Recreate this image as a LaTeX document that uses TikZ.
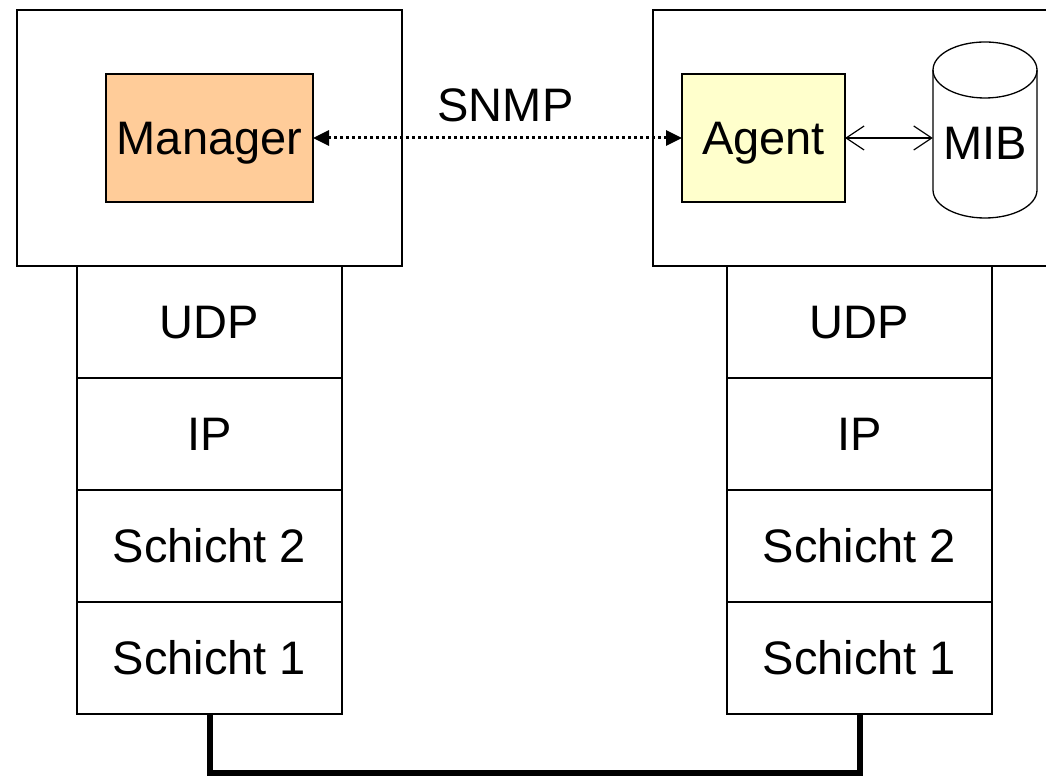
\documentclass[tikz,border=0pt]{standalone}
\usepackage{fontspec}
\setmainfont{Liberation Sans}
\usetikzlibrary{positioning,arrows.meta}

\definecolor{managerfill}{HTML}{FFCC99}
\definecolor{agentfill}{HTML}{FFFFCC}

\begin{document}
\begin{tikzpicture}[
    x=1pt, y=1pt,
    node distance=0pt,
    big/.style={font=\fontsize{47}{56}\selectfont, text height=33.6pt, text depth=0pt},
    host/.style={rectangle, draw, line width=1.8pt, minimum height=256pt, outer sep=0pt},
    app/.style={rectangle, draw, line width=1.3pt, minimum height=128pt, outer sep=0pt, big},
    layer/.style={rectangle, draw, line width=1.3pt, minimum width=265pt, minimum height=112pt, outer sep=0pt, big},
    dbshape/.style={line width=1.3pt},
    snmp/.style={line width=3pt, dash pattern=on 3pt off 3pt, {Triangle[length=16pt,width=15pt]}-{Triangle[length=16pt,width=15pt]}},
    access/.style={line width=1.2pt, {Straight Barb[length=18pt,width=24pt]}-{Straight Barb[length=18pt,width=24pt]}},
    wire/.style={line width=6pt}
]
\clip (0,0) rectangle (1046,779);

% Hosts
\node[host, minimum width=385pt] (leftbox) at (209.5,641) {};
\node[host, minimum width=413pt, right=251pt of leftbox] (rightbox) {};

% Manager and agent
\node[app, fill=managerfill, minimum width=207pt] (manager) at (leftbox.center) {Manager};
\node[app, fill=agentfill, minimum width=163pt, right=29pt of rightbox.west, anchor=west] (agent) {Agent};

% MIB
\node[big, inner sep=0pt, minimum width=104pt] (mib) at (985,636) {MIB};
\draw[dbshape] (933,709) -- (933,589) arc[start angle=180, end angle=360, x radius=52, y radius=28] -- (1037,709);
\draw[dbshape] (985,709) ellipse [x radius=52, y radius=28];

% Left stack
\node[layer, below=of leftbox] (udpl) {UDP};
\node[layer, below=of udpl] (ipl) {IP};
\node[layer, below=of ipl] (sch2l) {Schicht 2};
\node[layer, below=of sch2l] (sch1l) {Schicht 1};

% Right stack
\node[layer, below=of rightbox] (udpr) {UDP};
\node[layer, below=of udpr] (ipr) {IP};
\node[layer, below=of ipr] (sch2r) {Schicht 2};
\node[layer, below=of sch2r] (sch1r) {Schicht 1};

% Connections
\draw[snmp] (manager.east) -- (agent.west) node[midway, above=15pt, xshift=8pt, inner sep=0pt, big] (snmplabel) {SNMP};
\draw[access] (agent.east) -- (agent.east -| mib.west);
\draw[wire] (sch1l.south) -- ++(0,-59) -| (sch1r.south);

\end{tikzpicture}
\end{document}
